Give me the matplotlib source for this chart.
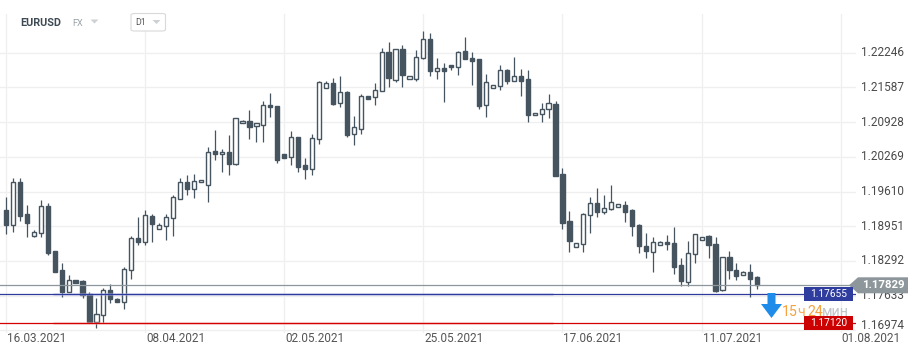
import matplotlib
matplotlib.use("Agg")
import matplotlib.pyplot as plt
from matplotlib.patches import Polygon, FancyBboxPatch, Rectangle
from matplotlib.transforms import blended_transform_factory, ScaledTranslation
import numpy as np

plt.rcParams['font.family'] = ['Roboto', 'DejaVu Sans']

symbol = "EURUSD"
market = "FX"
timeframe = "D1"

opens = [1.19259, 1.18980, 1.19785, 1.19183, 1.18771, 1.18816, 1.19335, 1.18480, 1.18119, 1.17707,
         1.17924, 1.17905, 1.17658, 1.17138, 1.17259, 1.17734, 1.17563, 1.17517, 1.18119, 1.18721,
         1.18657, 1.19145, 1.18892, 1.18961, 1.19101, 1.19462, 1.19785, 1.19652, 1.19785, 1.19728,
         1.20374, 1.20317, 1.20360, 1.20138, 1.20905, 1.20949, 1.20848, 1.20867, 1.21247, 1.21228,
         1.20317, 1.20260, 1.20640, 1.20108, 1.20032, 1.20602, 1.21582, 1.21665, 1.21285, 1.21500,
         1.20697, 1.20803, 1.21418, 1.21399, 1.21513, 1.22254, 1.21728, 1.22311, 1.21752, 1.21752,
         1.22140, 1.22501, 1.21904, 1.21950, 1.22013, 1.21969, 1.22273, 1.22140, 1.22121, 1.21247,
         1.21582, 1.21608, 1.21912, 1.21714, 1.21798, 1.21741, 1.21057, 1.21076, 1.21171, 1.21272,
         1.19937, 1.19044, 1.18551, 1.18608, 1.19158, 1.19386, 1.19227, 1.19272, 1.19310, 1.19348,
         1.19253, 1.18968, 1.18570, 1.18456, 1.18589, 1.18646, 1.18627, 1.18209, 1.17886, 1.18418,
         1.18695, 1.18765, 1.18613, 1.17734, 1.18366, 1.18119, 1.18030, 1.18081, 1.17987]

highs = [1.19511, 1.19861, 1.19861, 1.19354, 1.18879, 1.19449, 1.19386, 1.18486, 1.18247, 1.18025,
         1.17930, 1.17930, 1.17707, 1.17582, 1.17772, 1.17848, 1.17582, 1.18171, 1.18765, 1.19120,
         1.19259, 1.19183, 1.19018, 1.19183, 1.19544, 1.19861, 1.19924, 1.19943, 1.19829, 1.20461,
         1.20778, 1.20412, 1.20683, 1.21000, 1.20968, 1.21158, 1.20905, 1.21329, 1.21475, 1.21234,
         1.20317, 1.20759, 1.20640, 1.20241, 1.20702, 1.21709, 1.21709, 1.21766, 1.21804, 1.21519,
         1.21038, 1.21456, 1.21418, 1.21665, 1.22330, 1.22444, 1.22311, 1.22392, 1.21798, 1.22297,
         1.22658, 1.22615, 1.22140, 1.22045, 1.22013, 1.22284, 1.22544, 1.22254, 1.22121, 1.21842,
         1.21627, 1.22013, 1.21931, 1.22165, 1.21931, 1.21918, 1.21095, 1.21285, 1.21456, 1.21329,
         1.20057, 1.19240, 1.18627, 1.19202, 1.19506, 1.19677, 1.19544, 1.19734, 1.19367, 1.19424,
         1.19272, 1.18987, 1.18816, 1.18737, 1.18670, 1.18784, 1.18942, 1.18342, 1.18670, 1.18803,
         1.18752, 1.18778, 1.18740, 1.18361, 1.18480, 1.18258, 1.18100, 1.18233, 1.18006]

lows = [1.18803, 1.18847, 1.19056, 1.18740, 1.18752, 1.18740, 1.18410, 1.18087, 1.17612, 1.17702,
        1.17873, 1.17593, 1.17119, 1.17024, 1.17107, 1.17487, 1.17517, 1.17373, 1.17943, 1.18594,
        1.18594, 1.18657, 1.18892, 1.18689, 1.18771, 1.19462, 1.19544, 1.19493, 1.19785, 1.19417,
        1.20208, 1.19986, 1.19924, 1.20119, 1.20905, 1.20613, 1.20556, 1.20556, 1.21019, 1.20157,
        1.20252, 1.20114, 1.19986, 1.19853, 1.19929, 1.20518, 1.21582, 1.21247, 1.21221, 1.20651,
        1.20499, 1.20708, 1.21373, 1.21259, 1.21513, 1.21601, 1.21690, 1.21601, 1.21752, 1.21714,
        1.22121, 1.21809, 1.21752, 1.21316, 1.21918, 1.21828, 1.22121, 1.21638, 1.21183, 1.21031,
        1.21582, 1.21538, 1.21646, 1.21714, 1.21424, 1.20921, 1.21057, 1.20936, 1.21012, 1.19910,
        1.18904, 1.18467, 1.18551, 1.18467, 1.18816, 1.19120, 1.19177, 1.19253, 1.19310, 1.19025,
        1.18771, 1.18448, 1.18353, 1.18076, 1.18589, 1.18499, 1.18044, 1.17821, 1.17821, 1.18247,
        1.18695, 1.18342, 1.17707, 1.17715, 1.17954, 1.17935, 1.18030, 1.17612, 1.17759]

closes = [1.18980, 1.19785, 1.19151, 1.19018, 1.18841, 1.19335, 1.18448, 1.18087, 1.17707, 1.17930,
          1.17878, 1.17639, 1.17132, 1.17278, 1.17740, 1.17574, 1.17517, 1.18133, 1.18721, 1.18657,
          1.19158, 1.18999, 1.18980, 1.19120, 1.19500, 1.19785, 1.19652, 1.19804, 1.19829, 1.20366,
          1.20328, 1.20360, 1.20138, 1.21000, 1.20943, 1.20841, 1.20905, 1.21247, 1.21209, 1.20203,
          1.20252, 1.20640, 1.20081, 1.20032, 1.20621, 1.21684, 1.21665, 1.21278, 1.21494, 1.20689,
          1.20829, 1.21430, 1.21373, 1.21532, 1.22254, 1.21760, 1.22311, 1.21828, 1.21798, 1.22159,
          1.22501, 1.21904, 1.21950, 1.21904, 1.21969, 1.22265, 1.22121, 1.22094, 1.21240, 1.21684,
          1.21627, 1.21912, 1.21714, 1.21798, 1.21714, 1.21069, 1.21095, 1.21183, 1.21285, 1.19910,
          1.19018, 1.18665, 1.18627, 1.19183, 1.19386, 1.19227, 1.19291, 1.19405, 1.19367, 1.19227,
          1.18961, 1.18570, 1.18471, 1.18646, 1.18646, 1.18608, 1.18182, 1.17905, 1.18437, 1.18803,
          1.18740, 1.18589, 1.17726, 1.18361, 1.18119, 1.18006, 1.18087, 1.17949, 1.17829]

date_labels = ["16.03.2021", "08.04.2021", "02.05.2021", "25.05.2021",
               "17.06.2021", "11.07.2021", "01.08.2021"]
date_positions = [0, 20, 40, 60, 80, 100, 120]

price_ticks = [1.16974, 1.17633, 1.18292, 1.18951, 1.19610, 1.20269, 1.20928, 1.21587, 1.22246]

current_price = 1.17829
blue_level = 1.17655
red_level = 1.17120
timer_parts = ["15", "ч", "24", "мин"]

# ---------------- layout ----------------
W, H = 920, 356
DPI = 100
fig = plt.figure(figsize=(W / DPI, H / DPI), dpi=DPI)
fig.patch.set_facecolor("white")


def fx(x):
    return x / W


def fy(y):
    return 1 - y / H


ax_top, ax_bot, ax_right = 14, 333, 856
ax = fig.add_axes([0, fy(ax_bot), ax_right / W, (ax_bot - ax_top) / H])
ax.set_facecolor("white")

step = 6.956  # pixels per candle
ax.set_xlim(-6 / step, (ax_right - 6) / step)
ax.set_ylim(1.16923, 1.22981)

for s in ax.spines.values():
    s.set_visible(False)
ax.set_yticks(price_ticks)
ax.set_xticks(date_positions)
ax.grid(True, color="#efefef", lw=0.9)
ax.set_axisbelow(True)
ax.tick_params(length=0, labelleft=False, labelbottom=False)

# ---------------- candles ----------------
o = np.array(opens)
h = np.array(highs)
l = np.array(lows)
c = np.array(closes)
idx = np.arange(len(o))
candle_col = "#46545f"

ax.vlines(idx, l, h, color=candle_col, lw=0.9, zorder=3)
bull = c > o
bottom = np.minimum(o, c)
height = np.maximum(np.abs(c - o), 0.00006)
ax.bar(idx[bull], height[bull], bottom=bottom[bull], width=0.6,
       facecolor="white", edgecolor=candle_col, linewidth=1.0, zorder=4)
ax.bar(idx[~bull], height[~bull], bottom=bottom[~bull], width=0.6,
       facecolor=candle_col, edgecolor=candle_col, linewidth=1.0, zorder=4)

# ---------------- level lines ----------------
band_start, band_end = 6.76, 78.6
ax.hlines(blue_level, band_start, band_end, color="#b4bbe8", lw=2.2, alpha=0.45, zorder=5)
ax.hlines(red_level, band_start, band_end, color="#f4b0b0", lw=2.2, alpha=0.45, zorder=5)
ax.axhline(current_price, color="#8d979b", lw=0.9, zorder=6)
ax.axhline(blue_level, color="#2e3b9c", lw=0.9, zorder=6)
ax.axhline(red_level, color="#d20000", lw=0.9, zorder=6)

fig.canvas.draw()
renderer = fig.canvas.get_renderer()


def data_to_py(val):
    """pixel y (from top) for a data value"""
    disp = ax.transData.transform((0, val))
    return H - disp[1]


# ---------------- y labels ----------------
ytrans = blended_transform_factory(fig.transFigure, ax.transData)
for p in price_ticks:
    tr = ytrans
    if p == price_ticks[0]:
        tr = ytrans + ScaledTranslation(0, 0.05, fig.dpi_scale_trans)
    fig.text(fx(861), p, f"{p:.5f}", transform=tr, ha="left", va="center",
             fontsize=8.5, color="#4a4a4a", zorder=2)

# ---------------- x labels ----------------
xtrans = blended_transform_factory(ax.transData, fig.transFigure) + \
    ScaledTranslation(0.01, 0, fig.dpi_scale_trans)
for pos, lab in zip(date_positions, date_labels):
    fig.text(pos, fy(339), lab, transform=xtrans, ha="left", va="center",
             fontsize=8.5, color="#555555", clip_on=False)

# ---------------- price tags ----------------
ycur = data_to_py(current_price)
tag = Polygon([(fx(849), fy(ycur)), (fx(858), fy(ycur - 8)), (fx(908), fy(ycur - 8)),
               (fx(908), fy(ycur + 8)), (fx(858), fy(ycur + 8))],
              closed=True, transform=fig.transFigure, facecolor="#8d979b",
              edgecolor="none", zorder=20)
fig.patches.append(tag)
fig.text(fx(883), fy(ycur), f"{current_price:.5f}", ha="center", va="center",
         fontsize=8.2, fontweight="bold", color="white", zorder=21)

for lvl, col in [(blue_level, "#2f3d9e"), (red_level, "#cc0000")]:
    yl = data_to_py(lvl)
    rect = Rectangle((fx(804), fy(yl + 7)), (852.7 - 804) / W, 14 / H,
                     transform=fig.transFigure, facecolor=col, edgecolor="none", zorder=20)
    fig.patches.append(rect)
    fig.text(fx(828.3), fy(yl), f"{lvl:.5f}", ha="center", va="center",
             fontsize=7.3, color="white", zorder=21)

# ---------------- countdown arrow & text ----------------
arrow = Polygon([(fx(767.5), fy(293)), (fx(775.5), fy(293)), (fx(775.5), fy(304)),
                 (fx(782), fy(304)), (fx(771.5), fy(318)), (fx(761), fy(304)),
                 (fx(767.5), fy(304))],
                closed=True, transform=fig.transFigure, facecolor="#1e8ce8",
                edgecolor="none", zorder=22)
fig.patches.append(arrow)
timer_cols = ["#f5a13e", "#f6ae5e", "#f5a13e", "#bfc4c8"]
timer_gaps = [-0.5, 2.5, -0.5, 0]
cur_x = 781.5
for txt, col, gap in zip(timer_parts, timer_cols, timer_gaps):
    t = fig.text(fx(cur_x), fy(311.5), txt, ha="left", va="center", fontsize=10.2,
                 color=col, zorder=22)
    bb = t.get_window_extent(renderer=renderer)
    cur_x = bb.x1 + gap

# ---------------- header ----------------
fig.text(fx(20.5), fy(23), symbol, ha="left", va="center", fontsize=7.8,
         fontweight="bold", color="#3e4a54", zorder=30)
fig.text(fx(72.5), fy(23), market, ha="left", va="center", fontsize=6.5,
         color="#9aa3a8", zorder=30)
tri1 = Polygon([(fx(90.5), fy(19.5)), (fx(98.5), fy(19.5)), (fx(94.5), fy(23.5))],
               closed=True, transform=fig.transFigure, facecolor="#cdd1d4",
               edgecolor="none", zorder=30)
fig.patches.append(tri1)
box = FancyBboxPatch((fx(131), fy(31)), (165.5 - 131) / W, (31 - 13.5) / H,
                     boxstyle="round,pad=0,rounding_size=0.004",
                     transform=fig.transFigure, facecolor="white",
                     edgecolor="#d9d9d9", lw=0.8, zorder=29)
fig.patches.append(box)
fig.text(fx(135), fy(22.5), timeframe, ha="left", va="center", fontsize=6.3,
         color="#555555", zorder=30)
tri2 = Polygon([(fx(152.5), fy(20)), (fx(160.5), fy(20)), (fx(156.5), fy(24))],
               closed=True, transform=fig.transFigure, facecolor="#cdd1d4",
               edgecolor="none", zorder=30)
fig.patches.append(tri2)

fig.savefig("out.png", dpi=DPI, facecolor="white")
